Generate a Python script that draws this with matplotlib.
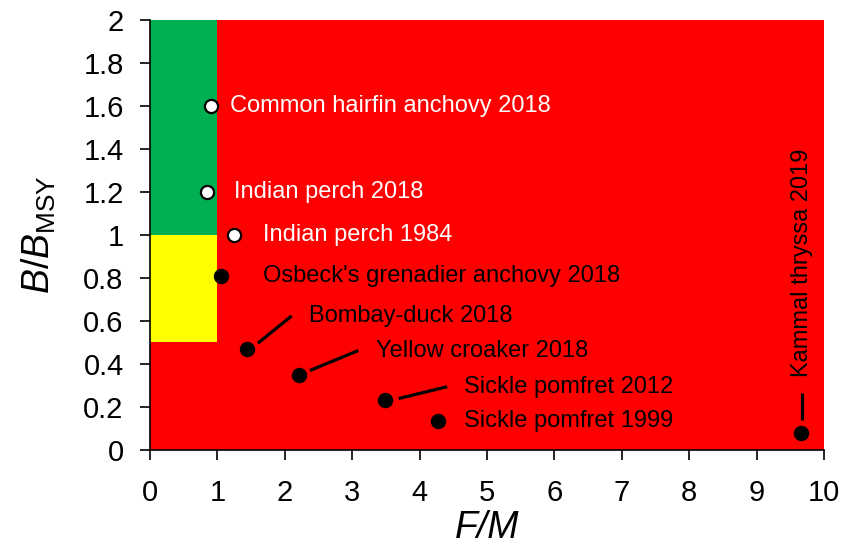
import matplotlib
matplotlib.use("Agg")
import matplotlib.pyplot as plt

plt.rcParams['font.family'] = ['Liberation Sans', 'DejaVu Sans']
plt.rcParams['mathtext.fontset'] = 'custom'
plt.rcParams['mathtext.rm'] = 'Liberation Sans'
plt.rcParams['mathtext.it'] = 'Liberation Sans:italic'

# stocks
stocks = ["Common hairfin anchovy 2018", "Indian perch 2018", "Indian perch 1984",
          "Osbeck's grenadier anchovy 2018", "Bombay-duck 2018", "Yellow croaker 2018",
          "Sickle pomfret 2012", "Sickle pomfret 1999", "Kammal thryssa 2019"]
f_m = [0.90, 0.85, 1.25, 1.05, 1.44, 2.21, 3.49, 4.27, 9.66]
b_bmsy = [1.60, 1.20, 1.00, 0.81, 0.47, 0.35, 0.23, 0.135, 0.08]
hollow = [True, True, True, False, False, False, False, False, False]

xticks = list(range(0, 11))
yticks = [0, 0.2, 0.4, 0.6, 0.8, 1, 1.2, 1.4, 1.6, 1.8, 2]
yticklabels = ["0", "0.2", "0.4", "0.6", "0.8", "1", "1.2", "1.4", "1.6", "1.8", "2"]

# label layout (text anchor) and leader lines
text_pos = [(1.18, 1.60), (1.24, 1.20), (1.67, 1.00), (1.67, 0.81), (2.36, 0.623),
            (3.35, 0.462), (4.66, 0.294), (4.66, 0.136), (9.68, 0.34)]
leaders = [((1.60, 2.10), (0.496, 0.623)),
           ((2.37, 3.09), (0.369, 0.462)),
           ((3.69, 4.41), (0.239, 0.294)),
           ((9.68, 9.68), (0.14, 0.263))]

fig = plt.figure(figsize=(8.43, 5.52), dpi=100)
ax = fig.add_axes([0.178, 0.185, 0.7995, 0.779])
ax.set_facecolor('#FF0000')
ax.fill_between([0, 1], 1, 2, color='#00B050', linewidth=0)
ax.fill_between([0, 1], 0.5, 1, color='#FFFF00', linewidth=0)

for (lx, ly) in leaders:
    ax.plot(lx, ly, color='black', linewidth=2.3, solid_capstyle='butt', zorder=3)

for i in range(len(stocks)):
    fc = 'white' if hollow[i] else 'black'
    ax.plot(f_m[i], b_bmsy[i], 'o', markersize=9.5, markerfacecolor=fc,
            markeredgecolor='black', markeredgewidth=1.6, zorder=4)
    tc = 'white' if hollow[i] else 'black'
    tx, ty = text_pos[i]
    if i == len(stocks) - 1:
        ax.text(tx, ty, stocks[i], rotation=90, ha='center', va='bottom',
                fontsize=17, color=tc)
    else:
        ax.text(tx, ty, stocks[i], ha='left', va='center', fontsize=17, color=tc)

ax.set_xlim(0, 10)
ax.set_ylim(0, 2)
ax.set_xticks(xticks)
ax.set_yticks(yticks)
ax.set_yticklabels(yticklabels)
ax.tick_params(labelsize=21, direction='out', length=7, width=1.2, color='black')
ax.tick_params(axis='x', pad=14)
ax.tick_params(axis='y', pad=12)
ax.spines['top'].set_visible(False)
ax.spines['right'].set_visible(False)
ax.spines['left'].set_linewidth(1.2)
ax.spines['bottom'].set_linewidth(1.2)

ax.set_xlabel('F/M', fontsize=27, fontstyle='italic', labelpad=2)
ax.set_ylabel(r'$B/B_{\mathrm{MSY}}$', fontsize=27, labelpad=18)

fig.savefig('out.png', dpi=100)
